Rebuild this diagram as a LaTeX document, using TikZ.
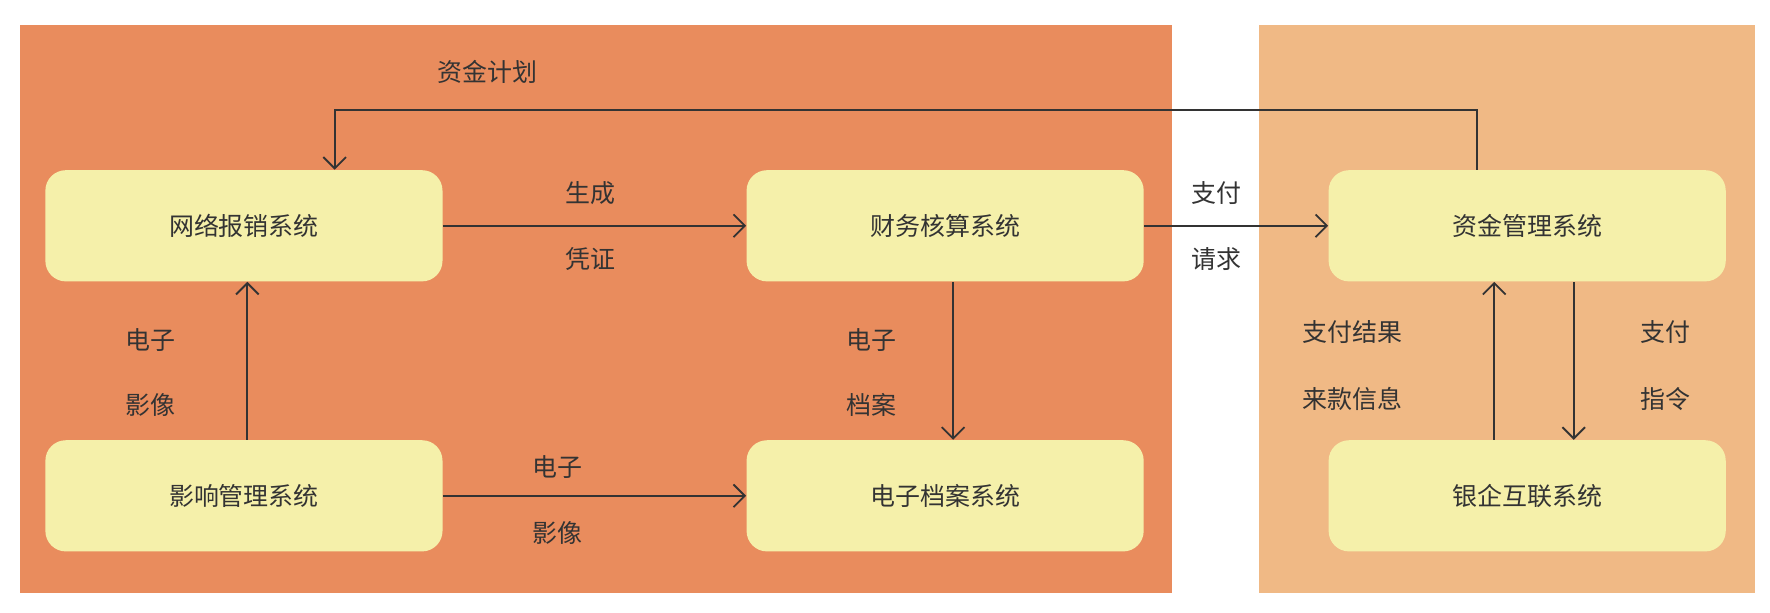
\documentclass[tikz,border=0pt]{standalone}
\usepackage{fontspec}
\setmainfont{Noto Sans CJK SC}
\usetikzlibrary{arrows.meta}
\definecolor{panelA}{HTML}{E98C5D}
\definecolor{panelB}{HTML}{F0B985}
\definecolor{boxfill}{HTML}{F5F0AA}
\definecolor{ink}{HTML}{333333}
\begin{document}
\begin{tikzpicture}[x=0.5pt,y=-0.5pt,
  sys/.style={fill=boxfill, rounded corners=9pt, minimum width=175pt, minimum height=49pt, font=\fontsize{11}{13}\selectfont, text=ink},
  lbl/.style={font=\fontsize{11}{13}\selectfont, text=ink},
  flow/.style={ink, thick, -{Straight Barb[length=5pt,width=10pt]}}]
\useasboundingbox (0,0) rectangle (1560,540);
\fill[panelA] (18,22) rectangle (1033,523);
\fill[panelB] (1110,22) rectangle (1547,523);
% systems
\node[sys] (wl) at (215,199) {网络报销系统};
\node[sys] (cw) at (833,199) {财务核算系统};
\node[sys] (zj) at (1346,199) {资金管理系统};
\node[sys] (yx) at (215,437) {影响管理系统};
\node[sys] (da) at (833,437) {电子档案系统};
\node[sys] (yq) at (1346,437) {银企互联系统};
% connectors
\coordinate (c1) at (1302,97);
\coordinate (c2) at (295,97);
\coordinate (xa) at (218,0);
\coordinate (xb) at (840,0);
\coordinate (xc) at (1317,0);
\coordinate (xd) at (1387,0);
\draw[flow] (zj.north -| c1) -- (c1) -- (c2) -- (wl.north -| c2);
\draw[flow] (wl) -- (cw);
\draw[flow] (cw) -- (zj);
\draw[flow] (yx) -- (da);
\draw[flow] (yx.north -| xa) -- (wl.south -| xa);
\draw[flow] (cw.south -| xb) -- (da.north -| xb);
\draw[flow] (yq.north -| xc) -- (zj.south -| xc);
\draw[flow] (zj.south -| xd) -- (yq.north -| xd);
% labels
\node[lbl] (l1) at (430,63) {资金计划};
\node[lbl] (l2) at (520,170) {生成};
\node[lbl] (l3) at (520,228) {凭证};
\node[lbl] (l4) at (1072,170) {支付};
\node[lbl] (l5) at (1072,228) {请求};
\node[lbl] (l6) at (133,300) {电子};
\node[lbl] (l7) at (133,357) {影像};
\node[lbl] (l8) at (768,300) {电子};
\node[lbl] (l9) at (768,357) {档案};
\node[lbl] (l10) at (1192,293) {支付结果};
\node[lbl] (l11) at (1192,352) {来款信息};
\node[lbl] (l12) at (1468,293) {支付};
\node[lbl] (l13) at (1468,352) {指令};
\node[lbl] (l14) at (491,412) {电子};
\node[lbl] (l15) at (491,470) {影像};
\end{tikzpicture}
\end{document}
